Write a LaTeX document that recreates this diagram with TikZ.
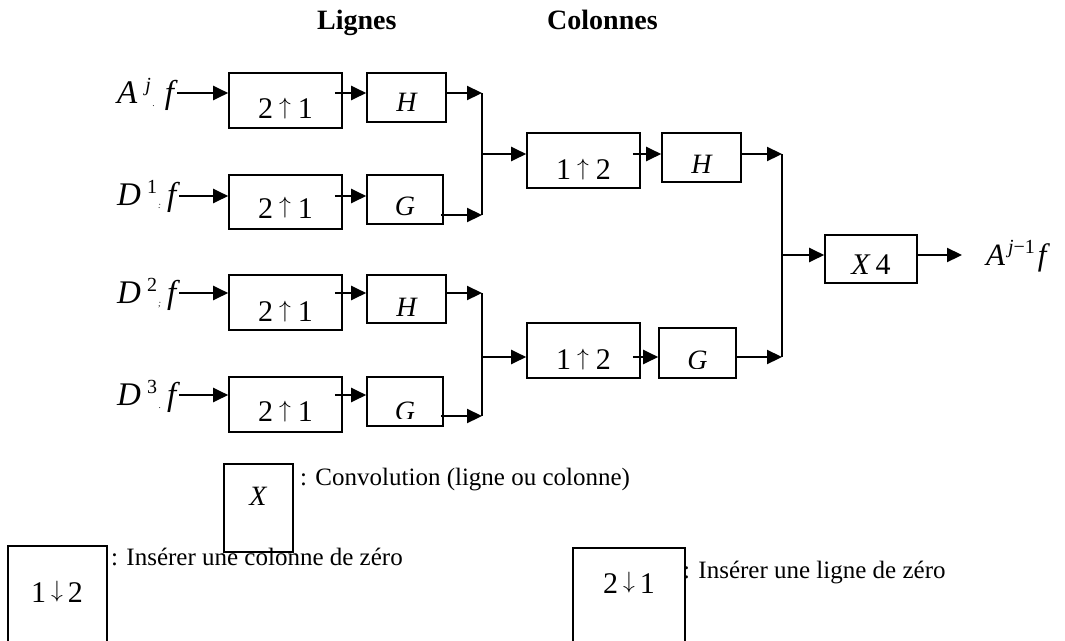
\documentclass[tikz,border=0pt]{standalone}
\usepackage{fontspec}
\setmainfont{Liberation Serif}
\usetikzlibrary{arrows.meta}
\newcommand\supf[1]{\raisebox{12pt}{\fontsize{20}{20}\selectfont #1}}
\newcommand\tinym[1]{\llap{\raisebox{-3pt}{\fontsize{9}{9}\selectfont #1}\kern-4pt}}
\newcommand\uarr{\raisebox{4.4pt}{\resizebox*{!}{21pt}{$\uparrow$}}}
\newcommand\darr{\raisebox{4.4pt}{\resizebox*{!}{21pt}{$\downarrow$}}}
\begin{document}
\begin{tikzpicture}[x=1pt,y=-1pt,
  box/.style={draw,line width=1.6pt,inner sep=0pt},
  bt/.style={font=\fontsize{30}{30}\selectfont,inner sep=0pt},
  lt/.style={font=\fontsize{28}{28}\selectfont\itshape,inner sep=0pt},
  lab/.style={font=\fontsize{33}{33}\selectfont,inner sep=0pt},
  leg/.style={font=\fontsize{25}{25}\selectfont,inner sep=0pt},
  head/.style={font=\fontsize{28}{28}\selectfont\bfseries,inner sep=0pt},
  wire/.style={line width=2.2pt},
  arr/.style={line width=2.2pt,-{Triangle[length=15pt,width=14pt]}}]
\useasboundingbox[fill=white] (0,0) rectangle (1065,640);

% headers
\node[head,anchor=base west] (hl) at (317,29) {Lignes};
\node[head,anchor=base west] (hc) at (547,29) {Colonnes};

% row coordinates
\coordinate (r1) at (0,93);
\coordinate (r2) at (0,196);
\coordinate (r3) at (0,293);
\coordinate (r4) at (0,395);
\coordinate (o2) at (0,215);
\coordinate (o4) at (0,416);
\coordinate (m1) at (0,154);
\coordinate (m2) at (0,357);
\coordinate (m3) at (0,255);

% input labels
\node[lab,anchor=base west] (a1) at (117,103) {\itshape A\kern8pt\supf{j}\tinym{.}\kern14pt f\kern3pt};
\node[lab,anchor=base west] (a2) at (117,205) {\itshape D\kern6pt\supf{\upshape 1}\tinym{:}\kern10pt f\kern3pt};
\node[lab,anchor=base west] (a3) at (117,303) {\itshape D\kern6pt\supf{\upshape 2}\tinym{;}\kern10pt f\kern3pt};
\node[lab,anchor=base west] (a4) at (117,405) {\itshape D\kern6pt\supf{\upshape 3}\tinym{.}\kern10pt f\kern3pt};

% first stage boxes
\node[box,minimum width=113pt,minimum height=55pt] (u1) at (285.5,100.5) {};
\node[box,minimum width=113pt,minimum height=54pt] (u2) at (285.5,202) {};
\node[box,minimum width=113pt,minimum height=55pt] (u3) at (285.5,302.5) {};
\node[box,minimum width=113pt,minimum height=55pt] (u4) at (285.5,404.5) {};
\node[bt] (u1t) at ([yshift=-8pt]u1.center) {2\kern6pt\uarr\kern7pt1};
\node[bt] (u2t) at ([yshift=-6pt]u2.center) {2\kern6pt\uarr\kern7pt1};
\node[bt] (u3t) at ([yshift=-9pt]u3.center) {2\kern6pt\uarr\kern7pt1};
\node[bt] (u4t) at ([yshift=-7pt]u4.center) {2\kern6pt\uarr\kern7pt1};

\node[box,minimum width=79pt,minimum height=49pt] (h1) at (406.5,97.5) {};
\node[box,minimum width=76pt,minimum height=49pt] (g2) at (405,199.5) {};
\node[box,minimum width=79pt,minimum height=48pt] (h3) at (406.5,299) {};
\node[box,minimum width=76pt,minimum height=49pt] (g4) at (405,401.5) {};
\node[lt] (h1t) at ([yshift=-5pt]h1.center) {H};
\node[lt] (h3t) at ([yshift=-8pt]h3.center) {H};
\begin{scope}
\clip (367,175) rectangle (443,215);
\node[lt] (g2t) at ([yshift=-7pt]g2.center) {G};
\end{scope}
\begin{scope}
\clip (367,377) rectangle (443,418);
\node[lt] (g4t) at ([yshift=-10pt]g4.center) {G};
\end{scope}

% second stage
\node[box,minimum width=113pt,minimum height=55pt] (c1) at (583.5,160.5) {};
\node[box,minimum width=113pt,minimum height=55pt] (c2) at (583.5,350.5) {};
\node[bt] (c1t) at ([yshift=-9pt]c1.center) {1\kern6pt\uarr\kern7pt2};
\node[bt] (c2t) at ([yshift=-9pt]c2.center) {1\kern6pt\uarr\kern7pt2};
\node[box,minimum width=79pt,minimum height=49pt] (hh) at (701.5,157.5) {};
\node[box,minimum width=77pt,minimum height=50pt] (gg) at (697.5,353) {};
\node[lt] (hht) at ([yshift=-6.5pt]hh.center) {H};
\begin{scope}
\clip (659,328) rectangle (736,368);
\node[lt] (ggt) at ([yshift=-7pt]gg.center) {G};
\end{scope}

% final
\node[box,minimum width=92pt,minimum height=48pt] (x4) at (871,259) {};
\node[bt] (x4t) at ([yshift=-6pt]x4.center) {\itshape X\upshape\kern6pt 4};
\node[lab,font=\fontsize{31}{31}\selectfont,anchor=base west] (out) at (986,265)
  {\itshape A\kern3pt\supf{j\upshape −1}\kern3pt f};

% join coordinates
\coordinate (j1) at (482,93);
\coordinate (j2) at (482,215);
\coordinate (j3) at (482,293);
\coordinate (j4) at (482,416);
\coordinate (jm1) at (482,154);
\coordinate (jm2) at (482,357);
\coordinate (k1) at (782,154);
\coordinate (k2) at (782,357);
\coordinate (km) at (782,255);
\coordinate (oe) at (962,255);

% arrows first stage
\draw[arr] (a1.east |- r1) -- (u1.west |- r1);
\draw[arr] (a2.east |- r2) -- (u2.west |- r2);
\draw[arr] (a3.east |- r3) -- (u3.west |- r3);
\draw[arr] (a4.east |- r4) -- (u4.west |- r4);
\draw[arr] ([xshift=-8pt]u1.east |- r1) -- (h1.west |- r1);
\draw[arr] ([xshift=-8pt]u2.east |- r2) -- (g2.west |- r2);
\draw[arr] ([xshift=-8pt]u3.east |- r3) -- (h3.west |- r3);
\draw[arr] ([xshift=-8pt]u4.east |- r4) -- (g4.west |- r4);
\draw[arr] (h1.east |- r1) -- (j1);
\draw[arr] ([xshift=-3pt]g2.east |- o2) -- (j2);
\draw[arr] (h3.east |- r3) -- (j3);
\draw[arr] ([xshift=-3pt]g4.east |- o4) -- (j4);
\draw[wire] (j1) -- (j2);
\draw[wire] (j3) -- (j4);
\draw[arr] (jm1) -- (c1.west |- m1);
\draw[arr] (jm2) -- (c2.west |- m2);
\draw[arr] ([xshift=-8pt]c1.east |- m1) -- (hh.west |- m1);
\draw[arr] ([xshift=-8pt]c2.east |- m2) -- (gg.west |- m2);
\draw[arr] (hh.east |- m1) -- (k1);
\draw[arr] (gg.east |- m2) -- (k2);
\draw[wire] (k1) -- (k2);
\draw[arr] (km) -- (x4.west |- m3);
\draw[arr] (x4.east |- m3) -- (oe);

% legend
\draw[line width=1.6pt] (224,464) rectangle (293,552);
\node[lt] (lx) at (258,496) {X};
\node[leg,anchor=base west] (lxt) at (300,485) {: Convolution (ligne ou colonne)};
\draw[line width=1.6pt] (8,650) -- (8,546) -- (107,546) -- (107,650);
\node[bt] (l12) at (57,592) {1\kern5pt\darr\kern5pt2};
\node[leg,anchor=base west] (l12t) at (111,565) {: Insérer une colonne de zéro};
\draw[line width=1.6pt] (573,650) -- (573,548) -- (685,548) -- (685,650);
\node[bt] (l21) at (629,583) {2\kern5pt\darr\kern5pt1};
\node[leg,anchor=base west] (l21t) at (683,578) {: Insérer une ligne de zéro};
\end{tikzpicture}
\end{document}
